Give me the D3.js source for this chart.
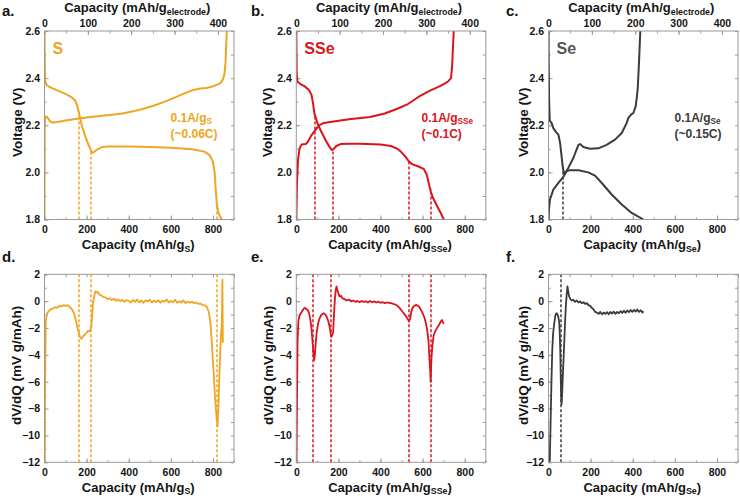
<!DOCTYPE html>
<html><head><meta charset="utf-8">
<script src="https://cdn.jsdelivr.net/npm/d3@7"></script>
<style>
body{margin:0;background:#fff;}
svg text{font-family:"Liberation Sans",Arial,sans-serif;font-weight:bold;fill:#151515;}
</style></head><body>
<svg id="chart" width="740" height="500"></svg>
<script>
// ---------------- DATA ----------------
const xTicksBottom = [0, 200, 400, 600, 800];
const xTicksTop = [0, 100, 200, 300, 400];
const vTicks = [1.8, 2.0, 2.2, 2.4, 2.6];
const dTicks = [-12, -10, -8, -6, -4, -2, 0, 2];

// Panel a: S
const S_dis_cap = [0,1,2,4,10,30,60,100,130,145,155,163,170,180,195,210,222,230,240,255,275,300,400,500,600,700,760,785,800,808,813,818,825,835,843];
const S_dis_v   = [2.6,2.5,2.42,2.385,2.37,2.36,2.348,2.333,2.318,2.305,2.285,2.255,2.225,2.19,2.15,2.115,2.09,2.083,2.09,2.1,2.108,2.11,2.11,2.108,2.104,2.098,2.088,2.072,2.045,2.0,1.93,1.87,1.83,1.81,1.8];
const S_chg_cap = [0,0.5,1,3,6,10,18,28,40,60,100,169,250,311,370,422,470,517,565,612,660,707,740,770,800,834,848,855,860,863,866];
const S_chg_v   = [1.8,2.0,2.2,2.228,2.236,2.237,2.228,2.215,2.212,2.214,2.22,2.23,2.238,2.244,2.25,2.259,2.27,2.283,2.298,2.315,2.333,2.35,2.356,2.358,2.365,2.378,2.395,2.42,2.47,2.54,2.6];
const S_mark_cap = [164, 221, 815];
const S_mark_v   = [2.24, 2.09, 1.87];

// Panel b: SSe
const SSe_dis_cap = [0,2,5,20,40,60,72,80,86,100,120,140,160,170,178,190,210,250,300,400,450,480,500,520,534,550,580,605,620,630,638,650,670,690,700];
const SSe_dis_v   = [2.6,2.42,2.385,2.375,2.365,2.35,2.33,2.29,2.25,2.21,2.17,2.135,2.105,2.095,2.1,2.112,2.12,2.122,2.122,2.118,2.112,2.1,2.085,2.065,2.047,2.035,2.025,2.015,1.99,1.95,1.92,1.89,1.855,1.82,1.8];
const SSe_chg_cap = [0,3,8,15,25,45,55,70,90,110,130,170,250,350,420,480,530,580,630,680,700,720,735,740,745,748];
const SSe_chg_v   = [1.8,1.95,2.05,2.1,2.118,2.12,2.13,2.155,2.18,2.2,2.21,2.215,2.225,2.235,2.25,2.27,2.29,2.32,2.345,2.365,2.375,2.385,2.4,2.45,2.55,2.6];
const SSe_mark_cap = [86, 170, 534, 635];
const SSe_mark_v   = [2.25, 2.095, 2.047, 1.93];

// Panel c: Se
const Se_dis_cap = [0,1,3,6,15,23,35,47,55,62,68,74,80,90,102,142,189,221,253,300,348,395,451];
const Se_dis_v   = [2.6,2.45,2.3,2.22,2.209,2.188,2.172,2.16,2.125,2.07,2.02,1.995,2.0,2.007,2.009,2.009,2.0,1.986,1.955,1.906,1.864,1.828,1.8];
const Se_chg_cap = [0,2,7,23,47,70,94,118,142,150,166,197,237,276,316,348,371,379,392,403,414,420,424,430,436];
const Se_chg_v   = [1.8,1.84,1.885,1.927,1.955,1.98,2.019,2.061,2.117,2.12,2.108,2.1,2.102,2.117,2.139,2.167,2.209,2.23,2.245,2.252,2.28,2.322,2.36,2.47,2.6];
const Se_mark_cap = [66];
const Se_mark_v   = [2.03];

// Panel d: dV/dQ S
const S_dq_cap = [1.5,3,6,10,15,20,30,40,50,60,70,80,90,100,110,120,130,140,150,160,168,176,184,192,200,208,214,219,223,227,231,236,241,247,252,258,265,272,280,290,300,310,320,330,340,350,360,370,380,390,400,410,420,430,440,450,460,470,480,490,500,510,520,530,540,550,560,570,580,590,600,610,620,630,640,650,660,670,680,690,700,710,720,730,740,750,760,770,780,788,794,802,810,818,822,826,830,834,838,842,845,847];
const S_dq_val = [-12,-6,-1.5,-1.1,-0.85,-0.75,-0.6,-0.55,-0.45,-0.5,-0.35,-0.4,-0.3,-0.35,-0.3,-0.45,-0.6,-0.9,-1.5,-2.2,-2.65,-2.8,-2.6,-2.5,-2.35,-2.2,-2.25,-2.1,-1.8,-0.9,-0.1,0.35,0.72,0.65,0.7,0.55,0.45,0.4,0.3,0.28,0.15,0.22,0.08,0.18,0.02,0.12,0.0,0.1,-0.05,0.08,0.02,-0.1,0.1,-0.05,0.12,-0.08,0.05,-0.12,0.06,-0.02,0.1,-0.1,0.04,-0.08,0.08,-0.12,0.05,-0.05,0.12,-0.1,0.02,-0.08,0.1,-0.12,0.0,-0.1,0.05,-0.15,-0.02,-0.12,-0.05,-0.15,-0.1,-0.2,-0.18,-0.28,-0.3,-0.4,-0.8,-1.6,-2.9,-5.0,-7.2,-8.8,-9.3,-7.8,-5.8,-4.0,-2.5,-1.8,1.6,-3.1];
const S_dq_marks = [165, 222, 820];

// Panel e: dV/dQ SSe
const SSe_dq_cap = [1,3,6,10,14,18,24,30,36,42,48,54,60,66,72,77,82,85,88,92,97,103,110,118,125,132,138,145,152,158,163,167,171,175,179,183,187,191,195,200,205,212,220,230,240,250,260,270,280,290,300,310,320,330,340,350,360,370,380,390,400,410,420,430,440,450,460,470,480,490,500,510,520,528,535,540,546,552,560,570,578,585,592,600,608,615,622,628,632,636,638,640,643,647,652,658,665,672,680,687,692,697,700];
const SSe_dq_val = [-12,-8,-3,-1.5,-1.15,-1.0,-0.85,-0.7,-0.55,-0.5,-0.6,-0.65,-0.85,-1.3,-2.0,-3.0,-4.0,-4.4,-4.0,-3.2,-2.3,-1.7,-1.3,-1.05,-0.95,-0.9,-1.0,-1.2,-1.5,-1.9,-2.4,-2.65,-2.5,-2.3,-1.0,0.1,0.8,1.1,0.8,0.6,0.35,0.4,0.2,0.15,0.05,0.12,-0.02,0.05,-0.05,0.02,-0.08,0.0,-0.06,-0.02,-0.1,0.02,-0.08,-0.02,-0.1,-0.04,-0.12,-0.08,-0.15,-0.1,-0.12,-0.15,-0.2,-0.25,-0.35,-0.5,-0.7,-0.9,-1.1,-1.3,-1.5,-1.35,-0.8,-0.5,-0.35,-0.28,-0.35,-0.45,-0.65,-0.9,-1.2,-1.6,-2.2,-3.0,-4.2,-5.2,-6.0,-5.0,-4.0,-3.2,-2.6,-2.3,-2.1,-1.9,-1.7,-1.5,-1.4,-1.6,-1.7];
const SSe_dq_marks = [83, 167, 536, 638];

// Panel f: dV/dQ Se
const Se_dq_cap = [6,10,14,18,22,27,32,37,42,47,51,54,56,58,60,62,64,67,70,74,78,83,87,90,94,98,104,110,118,126,134,142,150,158,166,174,182,190,198,206,214,222,230,238,246,254,262,270,278,286,294,302,310,318,326,334,342,350,358,366,374,382,390,398,406,414,422,430,438,446,451];
const Se_dq_val = [-12,-9,-6,-3.6,-2.4,-1.7,-1.1,-0.9,-0.95,-1.2,-1.6,-2.6,-3.8,-5.5,-7.0,-7.7,-7.2,-6.0,-4.8,-3.4,-1.8,-0.2,0.6,1.1,0.7,0.35,0.15,0.05,0.1,-0.05,0.05,-0.1,-0.02,-0.15,-0.08,-0.2,-0.15,-0.3,-0.35,-0.5,-0.62,-0.8,-0.85,-0.95,-0.8,-0.98,-0.85,-0.95,-0.82,-0.98,-0.8,-0.92,-0.78,-0.95,-0.8,-0.9,-0.75,-0.88,-0.72,-0.86,-0.7,-0.82,-0.66,-0.8,-0.65,-0.78,-0.62,-0.8,-0.68,-0.85,-0.75];
const Se_dq_marks = [63];

// ---------------- DRAWING ----------------
const colS = "#EFA521", colSSe = "#D9141B", colSe = "#3b3b3b";
const svg = d3.select("#chart");
const pw = 189.5;
const colLeft = [44.5, 296.3, 548.5];
const topRow = [31, 219.5], botRow = [274.3, 462.3];
const frameCol = "#9a9a9a";

function pts(a, b){ return d3.zip(a, b); }

function addSubText(sel, parts){
  parts.forEach(([t, sub], i)=>{
    const ts = sel.append("tspan").text(t);
    if (sub) ts.attr("font-size","0.68em").attr("dy", "0.3em");
    else if (i>0 && parts[i-1][1]) ts.attr("dy","-0.2em");
  });
}

function styleAxis(g){
  g.select(".domain").remove();
  g.selectAll("line").attr("stroke", frameCol);
  g.selectAll("text").attr("font-size", "10.5px");
}

function drawPanel(o){
  const g = svg.append("g");
  const x = d3.scaleLinear().domain([0, 900]).range([o.left, o.left + pw]);
  const y = d3.scaleLinear().domain(o.ydom).range([o.row[1], o.row[0]]);
  const id = "clip" + o.letter;
  svg.append("clipPath").attr("id", id).append("rect")
    .attr("x", o.left).attr("y", o.row[0]).attr("width", pw).attr("height", o.row[1]-o.row[0]);

  const xMinor = d3.range(0, 901, 100);
  g.append("g").attr("transform", `translate(0,${o.row[1]})`)
    .call(d3.axisBottom(x).tickValues(xTicksBottom).tickSizeInner(-4).tickSizeOuter(0).tickPadding(6.5).tickFormat(d3.format("d"))).call(styleAxis);
  g.append("g").attr("transform", `translate(0,${o.row[1]})`)
    .call(d3.axisBottom(x).tickValues(xMinor).tickSize(-2).tickFormat("")).call(styleAxis);
  if (o.topAxis){
    const xt = d3.scaleLinear().domain([0, 437]).range(x.range());
    g.append("g").attr("transform", `translate(0,${o.row[0]})`)
      .call(d3.axisTop(xt).tickValues(xTicksTop).tickSizeInner(-4).tickSizeOuter(0).tickPadding(4.3).tickFormat(d3.format("d"))).call(styleAxis);
    g.append("g").attr("transform", `translate(0,${o.row[0]})`)
      .call(d3.axisTop(xt).tickValues(d3.range(0, 437, 50)).tickSize(-2.5).tickFormat("")).call(styleAxis);
  } else {
    g.append("g").attr("transform", `translate(0,${o.row[0]})`)
      .call(d3.axisTop(x).tickValues(xMinor).tickSize(-3).tickFormat("")).call(styleAxis);
  }
  g.append("g").attr("transform", `translate(${o.left},0)`)
    .call(d3.axisLeft(y).tickValues(o.yticks).tickSizeInner(-4).tickSizeOuter(0).tickPadding(4.5).tickFormat(o.yfmt)).call(styleAxis);
  g.append("g").attr("transform", `translate(${o.left},0)`)
    .call(d3.axisLeft(y).tickValues(o.yminor).tickSize(-2).tickFormat("")).call(styleAxis);
  g.append("g").attr("transform", `translate(${o.left+pw},0)`)
    .call(d3.axisRight(y).tickValues(o.yminor).tickSize(-3).tickFormat("")).call(styleAxis);

  const dg = g.append("g").attr("clip-path", `url(#${id})`);
  o.marks.forEach((c, i)=>{
    const px = 2 * Math.round((x(c) - 1) / 2) + 1;
    dg.append("line").attr("x1", px).attr("x2", px)
      .attr("y1", y(o.ydom[0])).attr("y2", o.markTop ? y(o.markTop[i]) : y(o.ydom[1]))
      .attr("stroke", o.color).attr("stroke-width", 1.5).attr("stroke-dasharray", "3,2");
  });

  const line = d3.line().x(d=>x(d[0])).y(d=>y(d[1]));
  o.series.forEach(s=>{
    dg.append("path").attr("d", line(s)).attr("fill","none").attr("stroke", o.color)
      .attr("stroke-width", o.lw).attr("stroke-linejoin","round");
  });

  g.append("rect").attr("x", o.left).attr("y", o.row[0]).attr("width", pw).attr("height", o.row[1]-o.row[0])
    .attr("fill","none").attr("stroke", frameCol).attr("stroke-width", 1);

  const cx = o.left + pw/2;
  const bt = g.append("text").attr("x", cx - 1).attr("y", o.row[1] + 29.5).attr("text-anchor","middle").attr("font-size","13px");
  addSubText(bt, [["Capacity (mAh/g", false], [o.sub, true], [")", false]]);
  if (o.topAxis){
    const tt = g.append("text").attr("x", cx - 2).attr("y", 12.3).attr("text-anchor","middle").attr("font-size","13px");
    addSubText(tt, [["Capacity (mAh/g", false], ["electrode", true], [")", false]]);
  }
  g.append("text").attr("transform", `translate(${o.ytx},${(o.row[0]+o.row[1])/2 - 3}) rotate(-90)`)
    .attr("text-anchor","middle").attr("font-size","13.5px").text(o.ytitle);
  g.append("text").attr("x", o.lx).attr("y", o.row[0] === topRow[0] ? 16 : 262).attr("font-size","15px").text(o.letter + ".");
  if (o.big){
    g.append("text").attr("x", o.left + 8).attr("y", 54).attr("font-size","16px").style("fill", o.bigColor).text(o.big);
  }
  if (o.rate){
    const r1 = g.append("text").attr("x", o.rateX).attr("y", 121.5).attr("font-size","12px").style("fill", o.color);
    addSubText(r1, [["0.1A/g", false], [o.sub, true]]);
    r1.selectAll("tspan").style("fill", o.color);
    g.append("text").attr("x", o.rateX).attr("y", 137.5).attr("font-size","12px").style("fill", o.color).text(o.rate);
  }
}

const vfmt = d3.format(".1f");
const dfmt = d3.format("d");
const vMinor = d3.range(18, 27).map(v=>v/10);
const dMinor = d3.range(-12, 3);

drawPanel({letter:"a", left:colLeft[0], row:topRow, ydom:[1.8,2.6], yticks:vTicks, yminor:vMinor, yfmt:vfmt, topAxis:true,
  color:colS, lw:2, series:[pts(S_dis_cap,S_dis_v), pts(S_chg_cap,S_chg_v)], marks:S_mark_cap, markTop:S_mark_v,
  sub:"S", ytitle:"Voltage (V)", ytx:21.5, lx:2, big:"S", bigColor:colS, rate:"(~0.06C)", rateX:170.5});
drawPanel({letter:"b", left:colLeft[1], row:topRow, ydom:[1.8,2.6], yticks:vTicks, yminor:vMinor, yfmt:vfmt, topAxis:true,
  color:colSSe, lw:2, series:[pts(SSe_dis_cap,SSe_dis_v), pts(SSe_chg_cap,SSe_chg_v)], marks:SSe_mark_cap, markTop:SSe_mark_v,
  sub:"SSe", ytitle:"Voltage (V)", ytx:271.5, lx:251, big:"SSe", bigColor:colSSe, rate:"(~0.1C)", rateX:421.5});
drawPanel({letter:"c", left:colLeft[2], row:topRow, ydom:[1.8,2.6], yticks:vTicks, yminor:vMinor, yfmt:vfmt, topAxis:true,
  color:colSe, lw:2, series:[pts(Se_dis_cap,Se_dis_v), pts(Se_chg_cap,Se_chg_v)], marks:Se_mark_cap, markTop:Se_mark_v,
  sub:"Se", ytitle:"Voltage (V)", ytx:527.5, lx:506, big:"Se", bigColor:"#555555", rate:"(~0.15C)", rateX:674.5});
drawPanel({letter:"d", left:colLeft[0], row:botRow, ydom:[-12,2], yticks:dTicks, yminor:dMinor, yfmt:dfmt, topAxis:false,
  color:colS, lw:1.8, series:[pts(S_dq_cap,S_dq_val)], marks:S_dq_marks,
  sub:"S", ytitle:"dV/dQ (mV g/mAh)", ytx:21, lx:2});
drawPanel({letter:"e", left:colLeft[1], row:botRow, ydom:[-12,2], yticks:dTicks, yminor:dMinor, yfmt:dfmt, topAxis:false,
  color:colSSe, lw:1.8, series:[pts(SSe_dq_cap,SSe_dq_val)], marks:SSe_dq_marks,
  sub:"SSe", ytitle:"dV/dQ (mV g/mAh)", ytx:272.5, lx:251});
drawPanel({letter:"f", left:colLeft[2], row:botRow, ydom:[-12,2], yticks:dTicks, yminor:dMinor, yfmt:dfmt, topAxis:false,
  color:colSe, lw:1.8, series:[pts(Se_dq_cap,Se_dq_val)], marks:Se_dq_marks,
  sub:"Se", ytitle:"dV/dQ (mV g/mAh)", ytx:527.5, lx:506});
</script>
</body></html>
